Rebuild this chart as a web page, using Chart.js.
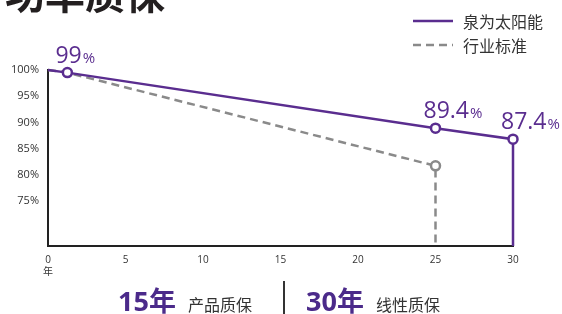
<!DOCTYPE html>
<html>
<head>
<meta charset="utf-8">
<script src="https://cdn.jsdelivr.net/npm/chart.js@4.4.1/dist/chart.umd.min.js"></script>
<style>
  html, body { margin: 0; padding: 0; background: #fff; }
  #wrap { position: relative; width: 562px; height: 314px; overflow: hidden; font-family: "Noto Sans CJK SC", sans-serif; }
  #chart { position: absolute; left: 0; top: 0; }
  .title { position: absolute; left: 5px; top: -28px; font-size: 40px; line-height: 40px; font-weight: 700; color: #231f20; white-space: nowrap; }
  .legend { position: absolute; left: 413px; font-size: 16px; line-height: 16px; color: #333; display: flex; align-items: center; white-space: nowrap; }
  .legend svg { margin-right: 10px; }
  .foot { position: absolute; top: 287px; display: flex; align-items: baseline; white-space: nowrap; line-height: 28px; }
  .big { font-family: "Open Sans", "Noto Sans CJK SC", sans-serif; font-weight: 700; font-size: 27px; color: #4b2a8a; }
  .small { font-size: 16px; color: #333; margin-left: 12px; }
  .divider { position: absolute; left: 283px; top: 281px; width: 1.5px; height: 40px; background: #333; }
</style>
</head>
<body>
<div id="wrap">
  <canvas id="chart" width="562" height="314"></canvas>
  <div class="title">功率质保</div>
  <div class="legend" style="top:13px">
    <svg width="40" height="4"><line x1="0" y1="2" x2="40" y2="2" stroke="#5a2d8f" stroke-width="2.5"/></svg>泉为太阳能
  </div>
  <div class="legend" style="top:37px">
    <svg width="40" height="4"><line x1="0" y1="2" x2="40" y2="2" stroke="#8a8a8a" stroke-width="2.5" stroke-dasharray="8,5"/></svg>行业标准
  </div>
  <div class="foot" style="left:118px"><span class="big">15年</span><span class="small">产品质保</span></div>
  <div class="divider"></div>
  <div class="foot" style="left:306px"><span class="big">30年</span><span class="small">线性质保</span></div>
</div>
<script>
// 数据
const yFloor = 66.4;
const yTicks = [75, 80, 85, 90, 95, 100];

const ourYears = [0, 1.25, 25, 30, 30];
const ourValues = [100, 99.5, 88.9, 86.8, yFloor];
const ourMarks = [0, 4.5, 4.5, 4.5, 0];
const ourLabels = ['', '99', '89.4', '87.4', ''];

const stdYears = [0, 1.25, 25, 25];
const stdValues = [100, 99.5, 81.7, yFloor];
const stdMarks = [0, 0, 4.5, 0];

const purple = '#5a2d8f';
const grey = '#8a8a8a';

const toPoints = (xs, ys) => xs.map((x, i) => ({ x: x, y: ys[i] }));

// 百分比标签
const valueLabels = {
  id: 'valueLabels',
  afterDatasetsDraw(chart) {
    const ctx = chart.ctx;
    const meta = chart.getDatasetMeta(0);
    ctx.save();
    ctx.fillStyle = purple;
    ctx.textBaseline = 'alphabetic';
    ctx.textAlign = 'left';
    ourLabels.forEach((txt, i) => {
      if (!txt) return;
      const p = meta.data[i];
      const x = p.x - 12;
      const y = p.y - 10;
      ctx.font = '23px "Open Sans"';
      ctx.fillText(txt, x, y);
      const w = ctx.measureText(txt).width;
      ctx.font = '15px "Open Sans"';
      ctx.fillText('%', x + w + 1, y);
    });
    ctx.restore();
  }
};

const ctx = document.getElementById('chart').getContext('2d');
new Chart(ctx, {
  type: 'line',
  data: {
    datasets: [{
      label: '泉为太阳能',
      data: toPoints(ourYears, ourValues),
      borderColor: purple,
      borderWidth: 2.5,
      pointRadius: ourMarks,
      pointBorderWidth: 2.5,
      pointBorderColor: purple,
      pointBackgroundColor: '#fff',
      tension: 0,
      clip: false
    }, {
      label: '行业标准',
      data: toPoints(stdYears, stdValues),
      borderColor: grey,
      borderWidth: 2.5,
      borderDash: [8, 5],
      pointRadius: stdMarks,
      pointBorderWidth: 2.5,
      pointBorderColor: grey,
      pointBackgroundColor: '#fff',
      tension: 0,
      clip: false
    }]
  },
  options: {
    responsive: false,
    animation: false,
    layout: { padding: { top: 70, right: 49, left: 0, bottom: 0 } },
    plugins: { legend: { display: false }, tooltip: { enabled: false } },
    scales: {
      x: {
        type: 'linear',
        min: 0,
        max: 30,
        grid: { display: false, drawTicks: false },
        border: { color: '#222', width: 2 },
        ticks: {
          stepSize: 5,
          padding: 8,
          color: '#333',
          font: { family: '"Open Sans", "Noto Sans CJK SC"', size: 10 },
          callback: v => v === 0 ? ['0', '年'] : String(v)
        },
        afterFit: s => { s.height = 68; }
      },
      y: {
        min: yFloor,
        max: 100,
        grid: { display: false, drawTicks: false },
        border: { color: '#222', width: 2 },
        afterBuildTicks: s => { s.ticks = yTicks.map(v => ({ value: v })); },
        ticks: {
          padding: 9,
          color: '#333',
          font: { family: '"Open Sans"', size: 11 },
          callback: v => v + '%'
        },
        afterFit: s => { s.width = 48; }
      }
    }
  },
  plugins: [valueLabels]
});
</script>
</body>
</html>
